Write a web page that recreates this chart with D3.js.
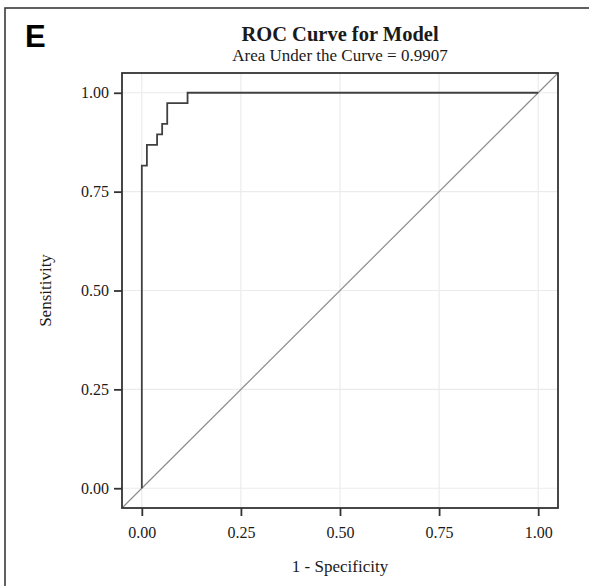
<!DOCTYPE html>
<html>
<head>
<meta charset="utf-8">
<script src="https://cdn.jsdelivr.net/npm/d3@7"></script>
<style>
  body { margin: 0; background: #fff; }
  svg text { font-family: "Liberation Serif", "Times New Roman", serif; fill: #1a1a1a; }
</style>
</head>
<body>
<div id="roc"></div>
<script>
// ROC steps (1 - specificity, sensitivity)
var fpr = [0, 0, 0.0128, 0.0128, 0.0385, 0.0385, 0.0513, 0.0513, 0.0641, 0.0641, 0.1154, 0.1154, 1];
var tpr = [0, 0.8158, 0.8158, 0.8684, 0.8684, 0.8947, 0.8947, 0.9211, 0.9211, 0.9737, 0.9737, 1, 1];
var ticks = [0, 0.25, 0.5, 0.75, 1];
var tickLabels = ["0.00", "0.25", "0.50", "0.75", "1.00"];
var auc = "0.9907";

// note: "top" is taken by window.top, so panel edges get their own names
var width = 589, height = 586,
    panelL = 122, panelR = 558, panelT = 73, panelB = 508;

var svg = d3.select("#roc").append("svg")
    .attr("width", width)
    .attr("height", height);

// outer figure frame
svg.append("rect")
    .attr("x", 5).attr("y", 8)
    .attr("width", 600).attr("height", 600)
    .attr("fill", "none")
    .attr("stroke", "#3a3a3a")
    .attr("stroke-width", 1.6);

svg.append("text")
    .attr("x", 25).attr("y", 47)
    .style("font-family", "'Liberation Sans', Arial, sans-serif")
    .style("font-weight", "bold")
    .style("font-size", "31px")
    .style("fill", "#000")
    .text("E");

var x = d3.scaleLinear().domain([-0.05, 1.05]).range([panelL, panelR]);
var y = d3.scaleLinear().domain([-0.05, 1.05]).range([panelB, panelT]);

// grid
var grid = svg.append("g");
grid.selectAll(".gx").data(ticks).enter().append("line")
    .attr("x1", function(d) { return x(d); }).attr("x2", function(d) { return x(d); })
    .attr("y1", panelT).attr("y2", panelB)
    .attr("stroke", "#ebebeb").attr("stroke-width", 1.2);
grid.selectAll(".gy").data(ticks).enter().append("line")
    .attr("y1", function(d) { return y(d); }).attr("y2", function(d) { return y(d); })
    .attr("x1", panelL).attr("x2", panelR)
    .attr("stroke", "#ebebeb").attr("stroke-width", 1.2);

// chance diagonal across the full panel
svg.append("line")
    .attr("x1", x(-0.05)).attr("y1", y(-0.05))
    .attr("x2", x(1.05)).attr("y2", y(1.05))
    .attr("stroke", "#8c8c8c").attr("stroke-width", 1.2);

// roc curve
var line = d3.line()
    .x(function(d, i) { return x(fpr[i]); })
    .y(function(d, i) { return y(tpr[i]); });

svg.append("path")
    .datum(fpr)
    .attr("d", line)
    .attr("fill", "none")
    .attr("stroke", "#404040")
    .attr("stroke-width", 1.8);

// panel border
svg.append("rect")
    .attr("x", panelL).attr("y", panelT)
    .attr("width", panelR - panelL).attr("height", panelB - panelT)
    .attr("fill", "none")
    .attr("stroke", "#333")
    .attr("stroke-width", 1.8);

// axes
var xAxis = d3.axisBottom(x).tickValues(ticks)
    .tickFormat(function(d, i) { return tickLabels[i]; })
    .tickSize(8).tickPadding(11);
var yAxis = d3.axisLeft(y).tickValues(ticks)
    .tickFormat(function(d, i) { return tickLabels[i]; })
    .tickSize(8).tickPadding(5);

var gx = svg.append("g").attr("transform", "translate(0," + panelB + ")").call(xAxis);
var gy = svg.append("g").attr("transform", "translate(" + panelL + ",0)").call(yAxis);
[gx, gy].forEach(function(g) {
  g.select(".domain").remove();
  g.selectAll(".tick line").attr("stroke", "#333").attr("stroke-width", 1.8);
  g.selectAll(".tick text")
    .style("font-family", "'Liberation Serif', 'Times New Roman', serif")
    .style("font-size", "16px")
    .style("fill", "#1a1a1a");
});

// titles
svg.append("text")
    .attr("x", (panelL + panelR) / 2).attr("y", 41)
    .attr("text-anchor", "middle")
    .style("font-weight", "bold")
    .style("font-size", "20.5px")
    .text("ROC Curve for Model");

svg.append("text")
    .attr("x", (panelL + panelR) / 2).attr("y", 61)
    .attr("text-anchor", "middle")
    .style("font-size", "17px")
    .text("Area Under the Curve = " + auc);

svg.append("text")
    .attr("x", (panelL + panelR) / 2).attr("y", 572)
    .attr("text-anchor", "middle")
    .style("font-size", "17px")
    .text("1 - Specificity");

svg.append("text")
    .attr("transform", "translate(51," + ((panelT + panelB) / 2) + ")rotate(-90)")
    .attr("text-anchor", "middle")
    .style("font-size", "17px")
    .text("Sensitivity");
</script>
</body>
</html>
